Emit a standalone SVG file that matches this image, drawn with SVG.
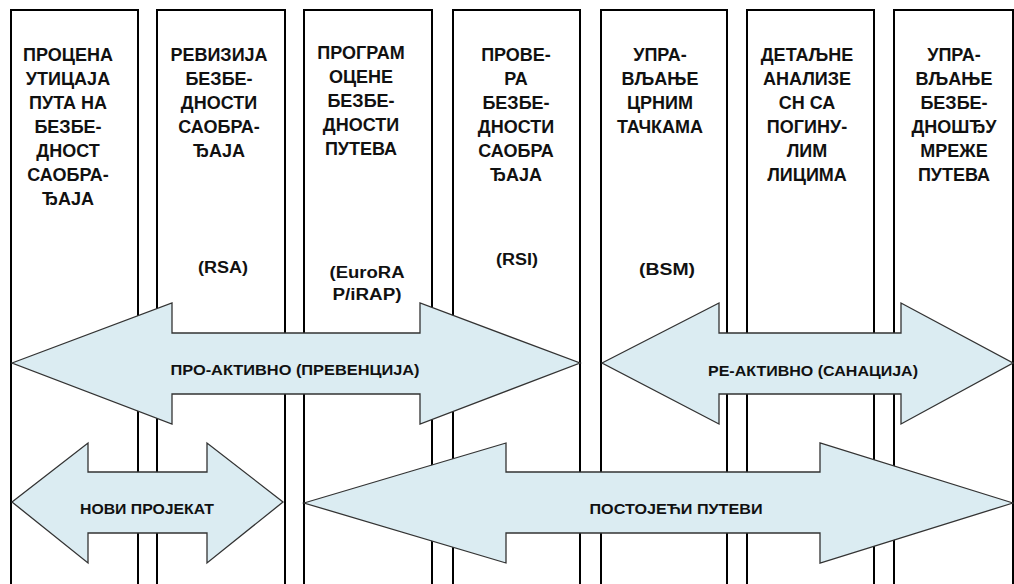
<svg xmlns="http://www.w3.org/2000/svg" width="1014" height="584" viewBox="0 0 1014 584">
<style>
.col{fill:#fff;stroke:#000;stroke-width:2}
.arr{fill:#dbecf2;stroke:#333;stroke-width:1.3;stroke-linejoin:miter}
.h{font-family:"Liberation Sans",Arial,sans-serif;font-weight:bold;font-size:18px;fill:#111;text-anchor:middle}
.ab{font-family:"Liberation Sans",Arial,sans-serif;font-weight:bold;font-size:16px;fill:#111;text-anchor:middle}
.al{font-family:"Liberation Sans",Arial,sans-serif;font-weight:bold;font-size:14px;fill:#111;text-anchor:middle}
</style>
<rect width="1014" height="584" fill="#fff"/>
<g id="col1"><rect class="col" x="11" y="10" width="127" height="600"/>
<text class="h"><tspan x="68" y="61">ПРОЦЕНА</tspan><tspan x="68" y="85">УТИЦАЈА</tspan><tspan x="68" y="109">ПУТА НА</tspan><tspan x="68" y="133">БЕЗБЕ-</tspan><tspan x="68" y="157">ДНОСТ</tspan><tspan x="68" y="181">САОБРА-</tspan><tspan x="68" y="205">ЂАЈА</tspan></text></g>
<g id="col2"><rect class="col" x="157" y="10" width="128" height="600"/>
<text class="h"><tspan x="219" y="61">РЕВИЗИЈА</tspan><tspan x="219" y="85">БЕЗБЕ-</tspan><tspan x="219" y="109">ДНОСТИ</tspan><tspan x="219" y="133">САОБРА-</tspan><tspan x="219" y="157">ЂАЈА</tspan></text>
<text class="ab" x="223" y="273" textLength="50" lengthAdjust="spacingAndGlyphs">(RSA)</text></g>
<g id="col3"><rect class="col" x="304" y="10" width="128" height="600"/>
<text class="h"><tspan x="361" y="59">ПРОГРАМ</tspan><tspan x="361" y="83">ОЦЕНЕ</tspan><tspan x="361" y="107">БЕЗБЕ-</tspan><tspan x="361" y="131">ДНОСТИ</tspan><tspan x="361" y="155">ПУТЕВА</tspan></text>
<text class="ab" x="367" y="278" textLength="75" lengthAdjust="spacingAndGlyphs">(EuroRA</text>
<text class="ab" x="367" y="300" textLength="69" lengthAdjust="spacingAndGlyphs">P/iRAP)</text></g>
<g id="col4"><rect class="col" x="453" y="10" width="127" height="600"/>
<text class="h"><tspan x="516" y="61">ПРОВЕ-</tspan><tspan x="516" y="85">РА</tspan><tspan x="516" y="109">БЕЗБЕ-</tspan><tspan x="516" y="133">ДНОСТИ</tspan><tspan x="516" y="157">САОБРА</tspan><tspan x="516" y="181">ЂАЈА</tspan></text>
<text class="ab" x="517" y="265" textLength="42" lengthAdjust="spacingAndGlyphs">(RSI)</text></g>
<g id="col5"><rect class="col" x="601" y="10" width="126" height="600"/>
<text class="h"><tspan x="660" y="61">УПРА-</tspan><tspan x="660" y="85">ВЉАЊЕ</tspan><tspan x="660" y="109">ЦРНИМ</tspan><tspan x="660" y="133">ТАЧКАМА</tspan></text>
<text class="ab" x="667" y="275" textLength="56" lengthAdjust="spacingAndGlyphs">(BSM)</text></g>
<g id="col6"><rect class="col" x="747" y="10" width="127" height="600"/>
<text class="h"><tspan x="807" y="61">ДЕТАЉНЕ</tspan><tspan x="807" y="85">АНАЛИЗЕ</tspan><tspan x="807" y="109">СН СА</tspan><tspan x="807" y="133">ПОГИНУ-</tspan><tspan x="807" y="157">ЛИМ</tspan><tspan x="807" y="181">ЛИЦИМА</tspan></text></g>
<g id="col7"><rect class="col" x="894" y="10" width="119" height="600"/>
<text class="h"><tspan x="954" y="61">УПРА-</tspan><tspan x="954" y="85">ВЉАЊЕ</tspan><tspan x="954" y="109">БЕЗБЕ-</tspan><tspan x="954" y="133">ДНОШЂУ</tspan><tspan x="954" y="157">МРЕЖЕ</tspan><tspan x="954" y="181">ПУТЕВА</tspan></text></g>
<g id="connectors">
<g id="proactive"><path class="arr" d="M12,363 L172,303 L172,333 L420,333 L420,303 L580,363 L420,424 L420,394 L172,394 L172,424 Z"/>
<text class="al" x="295" y="375" textLength="249" lengthAdjust="spacingAndGlyphs">ПРО-АКТИВНО  (ПРЕВЕНЦИЈА)</text></g>
<g id="reactive"><path class="arr" d="M602,363 L719,303 L719,333 L901,333 L901,303 L1013,363 L901,424 L901,394 L719,394 L719,424 Z"/>
<text class="al" x="813" y="376" textLength="210" lengthAdjust="spacingAndGlyphs">РЕ-АКТИВНО (САНАЦИЈА)</text></g>
<g id="newproject"><path class="arr" d="M12,502 L88,443 L88,472 L207,472 L207,443 L283,502 L207,563 L207,533 L88,533 L88,563 Z"/>
<text class="al" x="147" y="514" textLength="134" lengthAdjust="spacingAndGlyphs">НОВИ ПРОЈЕКАТ</text></g>
<g id="existing"><path class="arr" d="M304,503 L506,443 L506,472 L820,472 L820,443 L1013,503 L820,563 L820,533 L506,533 L506,563 Z"/>
<text class="al" x="676" y="514" textLength="173" lengthAdjust="spacingAndGlyphs">ПОСТОЈЕЋИ ПУТЕВИ</text></g>
</g>
</svg>
